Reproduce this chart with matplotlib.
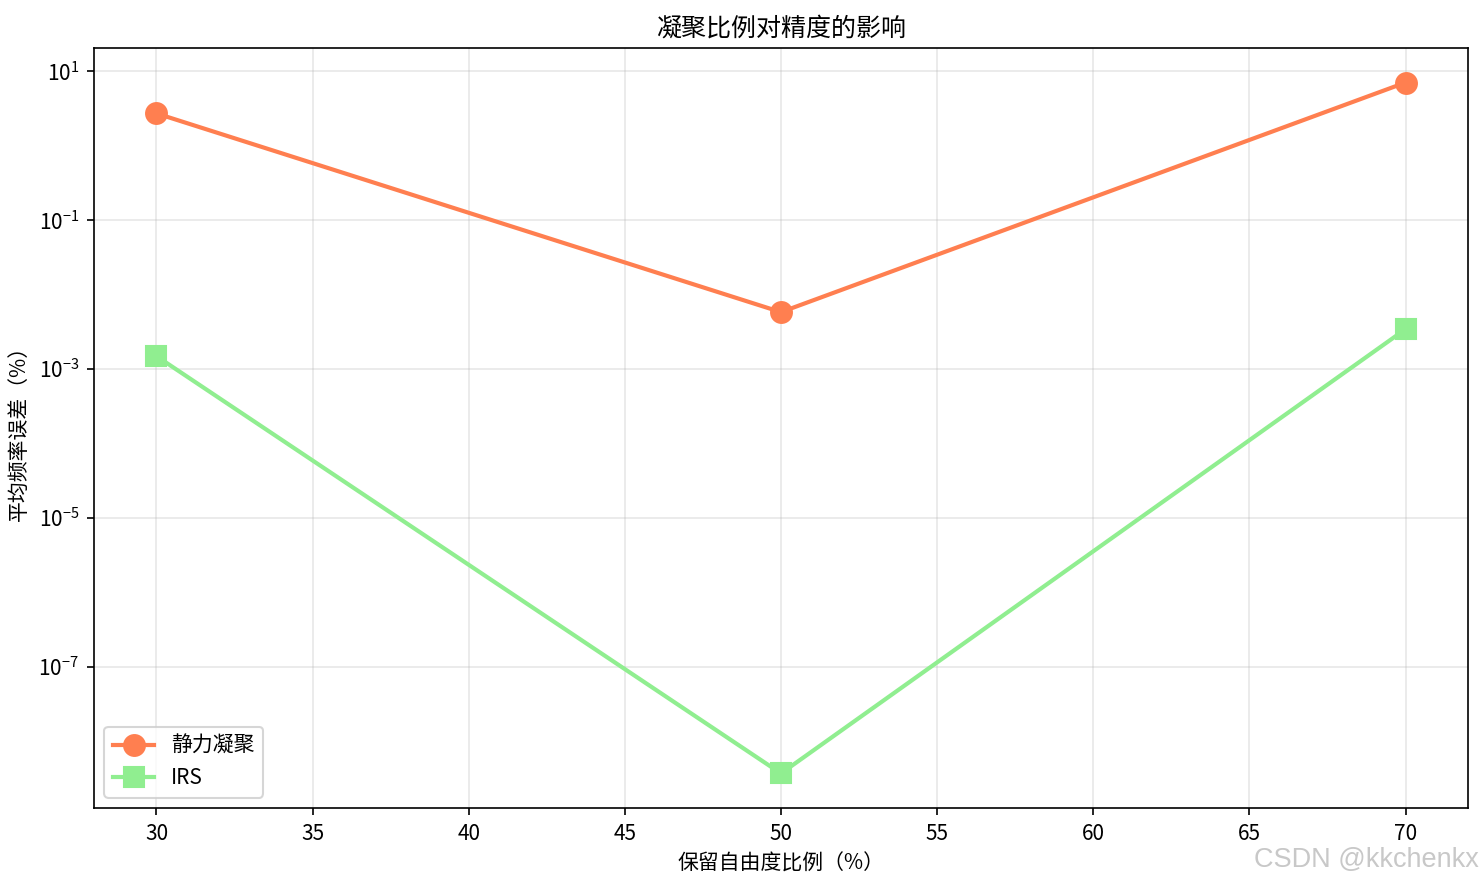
import matplotlib
matplotlib.use("Agg")
import matplotlib.pyplot as plt

# data
ratios = [30, 50, 70]
static_err = [2.73, 0.00582, 7.1]
irs_err = [0.00149, 3.66e-9, 0.00344]

plt.rcParams['font.family'] = ['Noto Sans CJK SC', 'DejaVu Sans']
plt.rcParams['font.size'] = 10

fig = plt.figure(figsize=(1483 / 150, 884 / 150), dpi=150)
ax = fig.add_axes([94 / 1483, 1 - 808 / 884, (1468 - 94) / 1483, (808 - 48) / 884])

ax.semilogy(ratios, static_err, 'o-', color='coral', linewidth=2, markersize=10, label='静力凝聚')
ax.semilogy(ratios, irs_err, 's-', color='lightgreen', linewidth=2, markersize=10, label='IRS')

ax.set_xlabel('保留自由度比例（%）')
ax.set_ylabel('平均频率误差（%）')
ax.set_title('凝聚比例对精度的影响', fontsize=12)
ax.set_yticks([1e1, 1e-1, 1e-3, 1e-5, 1e-7])
ax.minorticks_off()
ax.legend(loc='lower left')
ax.grid(True, alpha=0.3)

# watermark in the lower right corner
fig.text(0.997, 0.013, 'CSDN @kkchenkx', color='#c8c8c8', fontsize=13,
         ha='right', va='bottom', family='Liberation Sans')

fig.savefig('out.png', dpi=150)
